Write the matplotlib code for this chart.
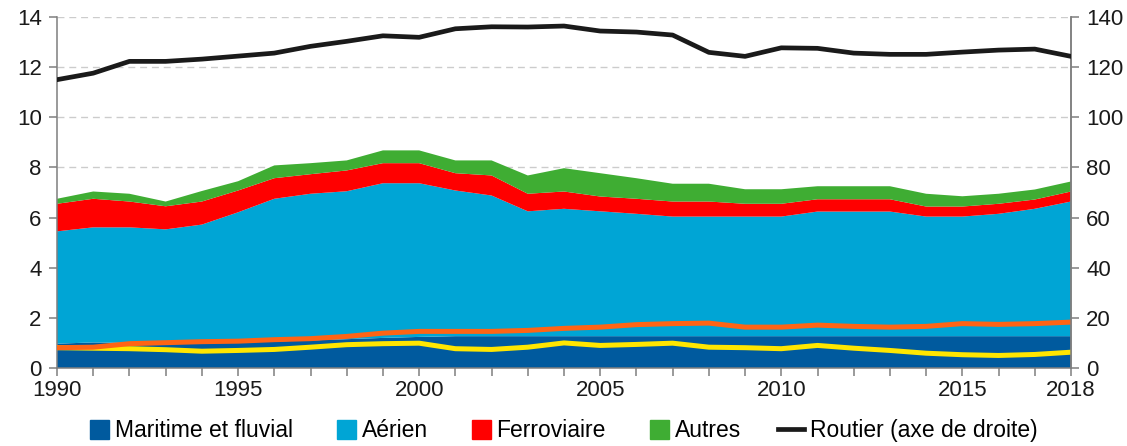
import matplotlib
matplotlib.use("Agg")
import matplotlib.pyplot as plt
from matplotlib.patches import Rectangle, Patch
from matplotlib.lines import Line2D
from matplotlib.legend_handler import HandlerPatch

plt.rcParams['font.family'] = ['Liberation Sans', 'DejaVu Sans']

# ----------- DATA -----------
years = list(range(1990, 2019))

maritime = [0.97, 1.02, 1.00, 1.00, 1.00, 1.02, 1.06, 1.10, 1.15, 1.20,
            1.24, 1.27, 1.27, 1.27, 1.27, 1.27, 1.27, 1.27, 1.27, 1.27,
            1.27, 1.27, 1.27, 1.27, 1.27, 1.27, 1.27, 1.27, 1.27]
aerien = [4.48, 4.59, 4.61, 4.53, 4.72, 5.19, 5.69, 5.85, 5.90, 6.17,
          6.13, 5.81, 5.61, 4.98, 5.08, 4.98, 4.88, 4.77, 4.77, 4.77,
          4.77, 4.97, 4.97, 4.97, 4.77, 4.77, 4.88, 5.08, 5.37]
ferroviaire = [1.10, 1.14, 1.03, 0.92, 0.92, 0.87, 0.82, 0.78, 0.83, 0.80,
               0.80, 0.69, 0.80, 0.70, 0.69, 0.59, 0.60, 0.60, 0.60, 0.51,
               0.51, 0.49, 0.49, 0.49, 0.40, 0.40, 0.40, 0.37, 0.40]
autres = [0.20, 0.29, 0.31, 0.19, 0.42, 0.37, 0.51, 0.44, 0.40, 0.51,
          0.51, 0.51, 0.60, 0.73, 0.93, 0.93, 0.82, 0.71, 0.71, 0.58,
          0.58, 0.52, 0.52, 0.52, 0.51, 0.41, 0.40, 0.40, 0.40]
routier = [115.0, 117.6, 122.3, 122.3, 123.2, 124.4, 125.6, 128.3, 130.3, 132.5,
           131.9, 135.3, 136.1, 136.0, 136.4, 134.4, 134.0, 132.8, 125.9, 124.3,
           127.7, 127.5, 125.6, 125.1, 125.1, 126.0, 126.8, 127.2, 124.3]

# two unlabelled lines drawn inside the lower bands
ligne_jaune = [0.81, 0.79, 0.77, 0.73, 0.67, 0.70, 0.74, 0.83, 0.93, 0.97,
               0.99, 0.77, 0.74, 0.83, 1.00, 0.90, 0.94, 0.99, 0.83, 0.81,
               0.77, 0.90, 0.79, 0.70, 0.59, 0.53, 0.50, 0.54, 0.63]
ligne_orange = [0.81, 0.83, 0.97, 1.01, 1.05, 1.07, 1.13, 1.17, 1.26, 1.39,
                1.46, 1.46, 1.46, 1.50, 1.58, 1.63, 1.73, 1.77, 1.79, 1.63,
                1.63, 1.71, 1.66, 1.63, 1.66, 1.77, 1.74, 1.77, 1.83]

labels = ['Maritime et fluvial', 'Aérien', 'Ferroviaire', 'Autres']
colors = ['#005a9e', '#00a5d5', '#ff0000', '#3fad33']
routier_label = 'Routier (axe de droite)'

# ----------- PLOT -----------
W, H = 1127, 446
fig = plt.figure(figsize=(W / 100, H / 100), dpi=100)
ax = fig.add_axes([57 / W, 1 - 368 / H, (1071 - 57) / W, (368 - 17) / H])

ax.stackplot(years, maritime, aerien, ferroviaire, autres, colors=colors,
             linewidth=0, zorder=2)
ax.plot(years, ligne_jaune, color='#ffe600', lw=3.6, zorder=3)
ax.plot(years, ligne_orange, color='#ff6414', lw=3.6, zorder=3)

ax.set_xlim(1990, 2018)
ax.set_ylim(0, 14)
ax.set_yticks(range(0, 15, 2))
ax.set_xticks([1990, 1995, 2000, 2005, 2010, 2015, 2018])
ax.set_xticks(years, minor=True)
ax.grid(axis='y', color='#cccccc', linestyle=(0, (5, 3.5)), linewidth=1.0)
ax.set_axisbelow(True)

spine_col = '#7f7f7f'
for s in ['left', 'bottom', 'right']:
    ax.spines[s].set_color(spine_col)
    ax.spines[s].set_linewidth(1.1)
ax.spines['top'].set_visible(False)
ax.tick_params(axis='both', which='both', colors=spine_col, labelcolor='#1a1a1a',
               length=6, width=1.1, labelsize=16)
ax.tick_params(axis='x', pad=3)
ax.tick_params(axis='y', pad=5)

ax2 = ax.twinx()
ax2.plot(years, routier, color='#1a1a1a', lw=3.4, zorder=4)
ax2.set_ylim(0, 140)
ax2.set_yticks(range(0, 141, 20))
ax2.spines['top'].set_visible(False)
ax2.spines['left'].set_visible(False)
ax2.spines['bottom'].set_visible(False)
ax2.spines['right'].set_color(spine_col)
ax2.spines['right'].set_linewidth(1.1)
ax2.tick_params(axis='y', colors=spine_col, labelcolor='#1a1a1a', length=6,
                width=1.1, labelsize=16, pad=5)


# square legend patches, right-aligned in the handle box
def square_patch(legend, orig_handle, xdescent, ydescent, width, height, fontsize):
    return Rectangle((-xdescent + width - height, -ydescent), height, height)


handles = [Patch(color=c, label=l) for c, l in zip(colors, labels)]
handles.append(Line2D([], [], color='#1a1a1a', lw=3.4, label=routier_label))
fig.legend(handles=handles, loc='center', bbox_to_anchor=(0.497, 0.034),
           ncol=5, frameon=False, fontsize=16.5, handlelength=1.15,
           handleheight=0.9, handletextpad=0.25, columnspacing=1.6,
           handler_map={Patch: HandlerPatch(patch_func=square_patch)})

fig.savefig('out.png', dpi=100)
